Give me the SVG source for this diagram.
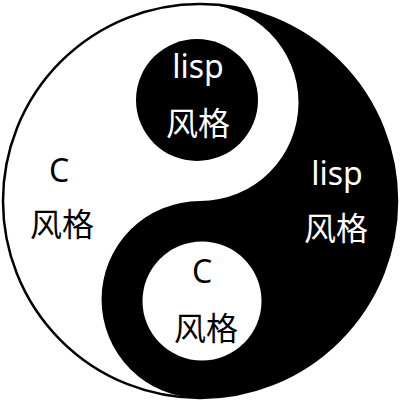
<svg xmlns="http://www.w3.org/2000/svg" width="400" height="400" viewBox="0 0 400 400">
  <style>
    text { font-family: "Noto Sans", "Noto Sans CJK SC", sans-serif; font-size: 32px; text-anchor: middle; }
    .w { fill: #ffffff; }
    .b { fill: #000000; }
  </style>
  <rect x="0" y="0" width="400" height="400" fill="#ffffff"/>
  <g id="taiji">
    <circle cx="200" cy="201" r="197" fill="#ffffff" stroke="#000000" stroke-width="2.5"/>
    <path d="M200,4 A197,197 0 0 1 200,398 A98.5,98.5 0 0 1 200,201 A98.5,98.5 0 0 0 200,4 Z" fill="#000000"/>
  </g>
  <g id="lisp-dot">
    <circle cx="197" cy="100" r="61" fill="#000000"/>
    <text class="w" x="198" y="78">lisp</text>
    <text class="w" x="198" y="135">风格</text>
  </g>
  <g id="c-dot">
    <circle cx="202" cy="301" r="59.5" fill="#ffffff"/>
    <text class="b" x="202" y="283">C</text>
    <text class="b" x="206" y="340">风格</text>
  </g>
  <g id="c-side">
    <text class="b" x="59" y="182">C</text>
    <text class="b" x="62" y="236">风格</text>
  </g>
  <g id="lisp-side">
    <text class="w" x="337" y="185">lisp</text>
    <text class="w" x="336" y="240">风格</text>
  </g>
</svg>
